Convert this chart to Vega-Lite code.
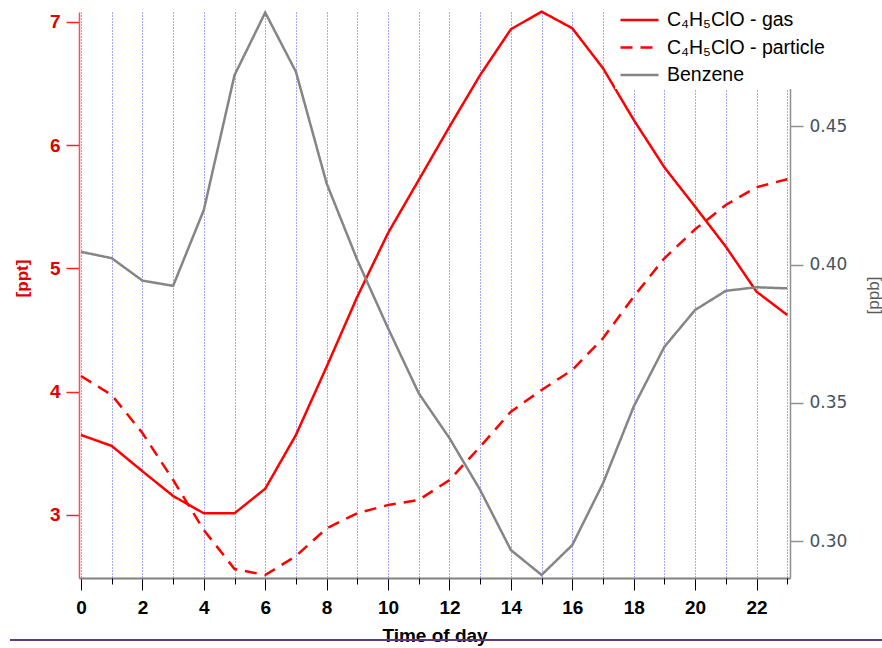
{
  "$schema": "https://vega.github.io/schema/vega-lite/v6.json",
  "width": 711,
  "height": 566,
  "autosize": "none",
  "padding": {"left": 79, "top": 12, "right": 92, "bottom": 70},
  "background": "white",
  "config": {
    "view": {"stroke": null},
    "font": "Liberation Sans",
    "axis": {"labelFont": "Liberation Sans", "titleFont": "Liberation Sans"},
    "legend": {"labelFont": "Liberation Sans"}
  },
  "datasets": {
    "diurnal": [
      {"h": 0, "gas": 3.649, "particle": 4.127, "benzene": 0.4046},
      {"h": 1, "gas": 3.560, "particle": 3.973, "benzene": 0.4023},
      {"h": 2, "gas": 3.355, "particle": 3.665, "benzene": 0.3942},
      {"h": 3, "gas": 3.154, "particle": 3.284, "benzene": 0.3923},
      {"h": 4, "gas": 3.014, "particle": 2.878, "benzene": 0.4197},
      {"h": 5, "gas": 3.014, "particle": 2.562, "benzene": 0.4684},
      {"h": 6, "gas": 3.213, "particle": 2.513, "benzene": 0.4910},
      {"h": 7, "gas": 3.649, "particle": 2.667, "benzene": 0.4696},
      {"h": 8, "gas": 4.203, "particle": 2.892, "benzene": 0.4293},
      {"h": 9, "gas": 4.771, "particle": 3.014, "benzene": 0.4016},
      {"h": 10, "gas": 5.287, "particle": 3.081, "benzene": 0.3770},
      {"h": 11, "gas": 5.717, "particle": 3.122, "benzene": 0.3535},
      {"h": 12, "gas": 6.149, "particle": 3.284, "benzene": 0.3373},
      {"h": 13, "gas": 6.568, "particle": 3.554, "benzene": 0.3186},
      {"h": 14, "gas": 6.939, "particle": 3.838, "benzene": 0.2969},
      {"h": 15, "gas": 7.082, "particle": 4.014, "benzene": 0.2879},
      {"h": 16, "gas": 6.947, "particle": 4.176, "benzene": 0.2987},
      {"h": 17, "gas": 6.623, "particle": 4.433, "benzene": 0.3210},
      {"h": 18, "gas": 6.204, "particle": 4.771, "benzene": 0.3487},
      {"h": 19, "gas": 5.819, "particle": 5.082, "benzene": 0.3703},
      {"h": 20, "gas": 5.500, "particle": 5.317, "benzene": 0.3836},
      {"h": 21, "gas": 5.176, "particle": 5.514, "benzene": 0.3905},
      {"h": 22, "gas": 4.811, "particle": 5.658, "benzene": 0.3918},
      {"h": 23, "gas": 4.622, "particle": 5.723, "benzene": 0.3914}
    ]
  },
  "layer": [
    {
      "data": {"name": "diurnal"},
      "transform": [{"fold": ["gas", "particle"], "as": ["series", "value"]}],
      "mark": {"type": "line", "strokeWidth": 2.5, "clip": false},
      "encoding": {
        "x": {
          "field": "h", "type": "quantitative",
          "scale": {"domain": [-0.065, 23.09], "nice": false, "zero": false},
          "axis": {
            "title": "Time of day",
            "titleFontSize": 19, "titleFontWeight": "bold", "titleColor": "black",
            "titleY": 57, "titleBaseline": "middle",
            "values": [0, 2, 4, 6, 8, 10, 12, 14, 16, 18, 20, 22],
            "format": "d",
            "labelFontSize": 19, "labelFontWeight": "bold", "labelColor": "black",
            "labelPadding": 8,
            "tickSize": 12, "tickColor": "black", "tickWidth": 1,
            "domainColor": "#808080", "domainWidth": 2,
            "grid": true, "gridColor": "#4646ff", "gridDash": [1, 2], "gridWidth": 1, "gridOpacity": 0.95
          }
        },
        "y": {
          "field": "value", "type": "quantitative",
          "scale": {"domain": [2.489, 7.079], "nice": false, "zero": false},
          "axis": {
            "orient": "left",
            "title": "[ppt]",
            "titleColor": "#e00000", "titleFontSize": 17, "titleFontWeight": "bold",
            "titleAngle": 270, "titleX": -57, "titleY": 266,
            "titleAlign": "center", "titleBaseline": "middle",
            "values": [3, 4, 5, 6, 7], "format": "d",
            "labelFontSize": 19, "labelFontWeight": "bold", "labelColor": "#e00000",
            "labelPadding": 6,
            "tickSize": 13, "tickColor": "#ff2020", "tickWidth": 1.5,
            "domainColor": "#ff4d4d", "domainWidth": 1.5,
            "grid": false
          }
        },
        "color": {
          "field": "series", "type": "nominal",
          "scale": {"domain": ["gas", "particle", "benzene"], "range": ["#ff0000", "#ff0000", "#858585"]},
          "legend": {
            "title": null,
            "orient": "none", "legendX": 536, "legendY": -5,
            "direction": "vertical",
            "fillColor": "white", "padding": 4,
            "symbolType": "stroke", "symbolSize": 1444, "symbolStrokeWidth": 2.5,
            "clipHeight": 18,
            "labelFontSize": 19.5, "labelColor": "black", "labelOffset": 7,
            "rowPadding": 7.5,
            "labelExpr": "datum.label == 'gas' ? 'C₄H₅ClO - gas' : datum.label == 'particle' ? 'C₄H₅ClO - particle' : 'Benzene'"
          }
        },
        "strokeDash": {
          "field": "series", "type": "nominal",
          "scale": {"domain": ["gas", "particle", "benzene"], "range": [[1, 0], [12, 8], [1, 0]]},
          "legend": {
            "title": null,
            "orient": "none", "legendX": 536, "legendY": -5,
            "labelExpr": "datum.label == 'gas' ? 'C₄H₅ClO - gas' : datum.label == 'particle' ? 'C₄H₅ClO - particle' : 'Benzene'"
          }
        }
      }
    },
    {
      "data": {"name": "diurnal"},
      "transform": [{"fold": ["benzene"], "as": ["series", "value"]}],
      "mark": {"type": "line", "strokeWidth": 2.5, "clip": false},
      "encoding": {
        "x": {
          "field": "h", "type": "quantitative",
          "scale": {"domain": [-0.065, 23.09], "nice": false, "zero": false},
          "axis": {
            "orient": "bottom", "title": null,
            "values": [1, 3, 5, 7, 9, 11, 13, 15, 17, 19, 21, 23],
            "labels": false, "domain": false,
            "tickSize": 6, "tickColor": "black", "tickWidth": 1,
            "grid": true, "gridColor": "#4646ff", "gridDash": [1, 2], "gridWidth": 1, "gridOpacity": 0.95
          }
        },
        "y": {
          "field": "value", "type": "quantitative",
          "scale": {"domain": [0.2868, 0.4912], "nice": false, "zero": false},
          "axis": {
            "orient": "right",
            "title": "[ppb]",
            "titleColor": "#5a5a5a", "titleFontSize": 17, "titleFontWeight": "normal",
            "titleAngle": 270, "titleX": 83, "titleY": 283,
            "titleAlign": "center", "titleBaseline": "middle",
            "values": [0.30, 0.35, 0.40, 0.45], "format": ".2f",
            "labelFont": "DejaVu Sans",
            "labelFontSize": 17, "labelFontWeight": "normal", "labelColor": "#46525e",
            "labelPadding": 6,
            "tickSize": 13, "tickColor": "#909090", "tickWidth": 1.5,
            "domainColor": "#909090", "domainWidth": 1.5,
            "grid": false
          }
        },
        "color": {
          "field": "series", "type": "nominal",
          "scale": {"domain": ["gas", "particle", "benzene"], "range": ["#ff0000", "#ff0000", "#858585"]}
        },
        "strokeDash": {
          "field": "series", "type": "nominal",
          "scale": {"domain": ["gas", "particle", "benzene"], "range": [[1, 0], [12, 8], [1, 0]]}
        }
      }
    },
    {
      "data": {"values": [{}]},
      "mark": {"type": "rule", "color": "#5c3a7c", "strokeWidth": 2, "clip": false},
      "encoding": {
        "x": {"datum": -2.31, "type": "quantitative", "scale": {"domain": [-0.065, 23.09], "nice": false, "zero": false}, "axis": null},
        "x2": {"datum": 26.2},
        "y": {"datum": 1.986, "type": "quantitative", "scale": {"domain": [2.489, 7.079], "nice": false, "zero": false}, "axis": null}
      }
    }
  ],
  "resolve": {
    "scale": {"y": "independent"},
    "axis": {"x": "independent", "y": "independent"}
  }
}
